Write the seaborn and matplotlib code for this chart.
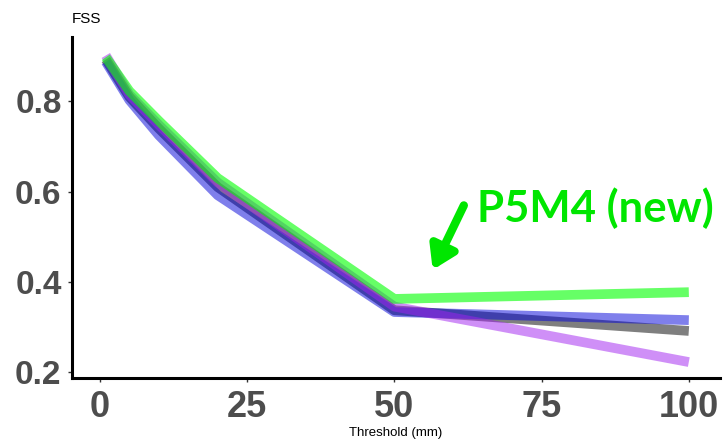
import matplotlib
matplotlib.use("Agg")
import matplotlib.pyplot as plt
import seaborn as sns
import pandas as pd

# FSS by precipitation threshold for four model configurations
thresholds = [1, 5, 10, 20, 50, 100]
fss_gray = [0.893, 0.810, 0.740, 0.610, 0.337, 0.291]
fss_blue = [0.888, 0.803, 0.725, 0.592, 0.333, 0.315]
fss_purple = [0.902, 0.815, 0.748, 0.620, 0.345, 0.222]
fss_green = [0.898, 0.823, 0.757, 0.630, 0.362, 0.377]

series_names = ["gray", "blue", "purple", "green"]
series_values = [fss_gray, fss_blue, fss_purple, fss_green]

x_ticks = [0, 25, 50, 75, 100]
y_ticks = [0.2, 0.4, 0.6, 0.8]

rows = []
for name, vals in zip(series_names, series_values):
    for t, v in zip(thresholds, vals):
        rows.append({"Threshold": t, "FSS": v, "run": name})
df = pd.DataFrame(rows)

palette = {
    "gray": (0.0, 0.0, 0.0, 0.5),
    "blue": (0.0, 0.0, 0.85, 0.5),
    "purple": (0.63, 0.13, 0.94, 0.5),
    "green": (0.0, 1.0, 0.0, 0.6),
}

sns.set_theme(style="ticks")
fig = plt.figure(figsize=(7.24, 4.45), dpi=100)
ax = fig.add_axes([0.0994, 0.1506, 0.8951, 0.7663])

sns.lineplot(data=df, x="Threshold", y="FSS", hue="run", hue_order=series_names,
             palette=palette, linewidth=7, legend=False, ax=ax,
             solid_capstyle="butt", solid_joinstyle="round")

ax.set_xlim(-4.75, 105.3)
ax.set_ylim(0.1867, 0.943)
ax.set_xticks(x_ticks)
ax.set_yticks(y_ticks)
ax.set_xticklabels([str(v) for v in x_ticks],
                   fontdict={"family": ["Liberation Sans Narrow", "Liberation Sans"],
                             "weight": "bold", "size": 26}, color="#4d4d4d")
ax.set_yticklabels([f"{v:.1f}" for v in y_ticks],
                   fontdict={"family": ["Liberation Sans"], "weight": "bold", "size": 24},
                   color="#4d4d4d")
ax.tick_params(axis="both", length=3, width=1, color="#333333")
ax.tick_params(axis="x", pad=6)
ax.tick_params(axis="y", pad=4.5)

for side in ["top", "right"]:
    ax.spines[side].set_visible(False)
for side in ["left", "bottom"]:
    ax.spines[side].set_linewidth(2.2)
    ax.spines[side].set_color("black")

ax.set_xlabel("Threshold (mm)", fontsize=9.5, family=["Liberation Sans Narrow", "Liberation Sans"],
              color="black", labelpad=1)
ax.set_ylabel("")
fig.text(72 / 724, 1 - 19 / 445, "FSS", fontsize=11, family=["Liberation Sans"],
         color="black", ha="left", va="center")

# annotation for the new configuration
fig.text(477 / 724, 1 - 208 / 445, "P5M4 (new)", fontsize=31.5, fontweight="bold",
         family=["Lato", "DejaVu Sans"], color="#00e600", ha="left", va="center")
ax.annotate("", xy=(56.3, 0.421), xytext=(62.0, 0.575),
            arrowprops=dict(arrowstyle="-|>,head_length=1.1,head_width=0.7",
                            color="#00e600", lw=6))

fig.savefig("out.png", dpi=100)
